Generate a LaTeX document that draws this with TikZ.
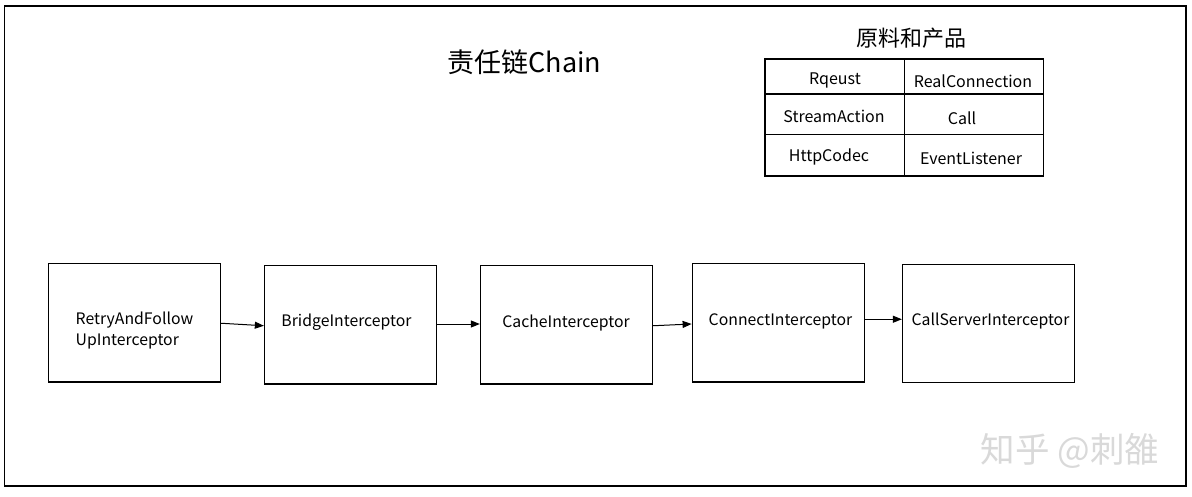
\documentclass[tikz,border=0pt]{standalone}
\usepackage{fontspec}
\setmainfont{Noto Sans CJK SC}
\usetikzlibrary{arrows.meta}
\begin{document}
\begin{tikzpicture}[x=1pt,y=-1pt,
  box/.style={draw=black,line width=1.3pt,inner sep=0pt,minimum width=172pt,minimum height=118.5pt},
  lbl/.style={inner sep=0pt,font=\fontsize{15.8}{21}\selectfont},
  cell/.style={inner sep=0pt,font=\fontsize{16}{19}\selectfont},
  arr/.style={line width=1pt,-{Triangle[length=9pt,width=7pt]}}]
\useasboundingbox (0,0) rectangle (1192,497);
\fill[white] (0,0) rectangle (1192,497);
\draw[line width=1.5pt] (4.5,6) rectangle (1186,486);
% title
\node[inner sep=0pt,font=\fontsize{27}{32}\selectfont] (title) at (524.5,62) {责任链Chain};
\node[inner sep=0pt,font=\fontsize{22}{26}\selectfont] (mtitle) at (911,38) {原料和产品};
% table
\draw[line width=1.2pt] (765,59) rectangle (1043.5,176);
\draw[line width=1.2pt] (904.5,59) -- (904.5,176);
\draw[line width=1.2pt] (765,94) -- (1043.5,94);
\draw[line width=1.2pt] (765,134.5) -- (1043.5,134.5);
\node[cell] (c1) at (835,80) {Rqeust};
\node[cell] (c2) at (973,81) {RealConnection};
\node[cell] (c3) at (834,116) {StreamAction};
\node[cell] (c4) at (962,118) {Call};
\node[cell] (c5) at (829,157) {HttpCodec};
\node[cell] (c6) at (971,158) {EventListener};
% boxes
\node[box] (b1) at (134.5,322.75) {};
\node[box] (b2) at (350.5,324.75) {};
\node[box] (b3) at (566.5,324.75) {};
\node[box] (b4) at (778.25,322.75) {};
\node[box,minimum height=118pt] (b5) at (988.5,323.75) {};
\node[lbl,align=left,anchor=west] (t1) at (75.5,331) {RetryAndFollow\\UpInterceptor};
\node[lbl] (t2) at (346.5,322) {BridgeInterceptor};
\node[lbl] (t3) at (566,323) {CacheInterceptor};
\node[lbl] (t4) at (780.5,321) {ConnectInterceptor};
\node[lbl] (t5) at (990.5,321) {CallServerInterceptor};
% arrows
\draw[arr] ([yshift=-0.5pt]b1.east) -- ([yshift=-1pt]b2.west);
\draw[arr] ([yshift=0.75pt]b2.east) -- ([yshift=0.75pt]b3.west);
\draw[arr] ([yshift=-1pt]b3.east) -- ([yshift=-1.25pt]b4.west);
\draw[arr] ([yshift=3.5pt]b4.east) -- ([yshift=4.5pt]b5.west);
% watermark
\node[inner sep=0pt,text=black!15,font=\fontsize{34.5}{40}\selectfont] (wm) at (1070,451) {知乎 @刺雒};
\end{tikzpicture}
\end{document}
